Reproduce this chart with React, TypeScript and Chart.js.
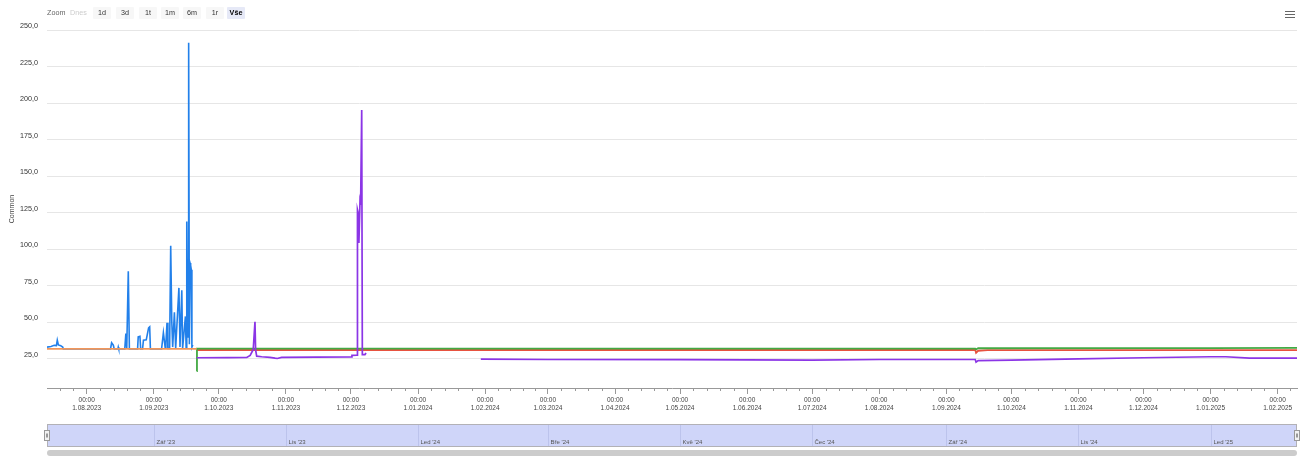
import React, { useEffect, useRef } from "react";
import { Chart, registerables } from "chart.js";

Chart.register(...registerables);

// ---------------- DATA ----------------
const blueDates = [
  "2023-07-13 16:00", "2023-07-15 12:00", "2023-07-17 00:00", "2023-07-18 00:00", "2023-07-18 10:00",
  "2023-07-18 22:00", "2023-07-20 00:00", "2023-07-20 22:00", "2023-07-21 05:00", "2023-08-12 00:00",
  "2023-08-12 12:00", "2023-08-13 07:00", "2023-08-13 17:00", "2023-08-15 10:00", "2023-08-15 14:00",
  "2023-08-15 19:00", "2023-08-18 14:00", "2023-08-19 02:00", "2023-08-19 12:00", "2023-08-20 05:00",
  "2023-08-20 17:00", "2023-08-24 12:00", "2023-08-24 19:00", "2023-08-25 14:00", "2023-08-25 22:00",
  "2023-08-26 19:00", "2023-08-27 05:00", "2023-08-28 12:00", "2023-08-29 14:00", "2023-08-30 02:00",
  "2023-08-30 10:00", "2023-09-04 14:00", "2023-09-05 10:00", "2023-09-06 05:00", "2023-09-06 14:00",
  "2023-09-07 02:00", "2023-09-07 12:00", "2023-09-08 07:00", "2023-09-08 19:00", "2023-09-09 07:00",
  "2023-09-09 17:00", "2023-09-10 12:00", "2023-09-11 02:00", "2023-09-12 14:00", "2023-09-13 02:00",
  "2023-09-13 22:00", "2023-09-14 07:00", "2023-09-15 14:00", "2023-09-15 22:00", "2023-09-16 05:00",
  "2023-09-16 12:00", "2023-09-16 19:00", "2023-09-17 02:00", "2023-09-17 10:00", "2023-09-17 17:00",
  "2023-09-18 00:00", "2023-09-18 07:00", "2023-09-18 14:00", "2023-09-19 00:00",
];
const blueValues = [
  33.0, 33.4, 34.2, 34.0, 37.7,
  34.5, 34.0, 33.0, 31.8, 31.8,
  35.9, 34.3, 31.8, 31.8, 33.0,
  31.8, 31.8, 42.3, 32.0, 84.9,
  31.8, 31.8, 40.0, 40.4, 31.8,
  31.8, 37.7, 38.0, 46.2, 46.9,
  31.8, 31.8, 42.8, 33.0, 36.0,
  49.6, 32.0, 32.0, 102.4, 50.7,
  33.0, 56.8, 32.0, 73.5, 33.0,
  71.9, 32.0, 54.0, 33.0, 119.0,
  60.0, 40.0, 241.3, 35.0, 90.6,
  89.0, 86.0, 33.0, 34.5,
];

const orangeDates = ["2023-07-13 16:00", "2023-08-15 00:00", "2023-09-20 20:00"];
const orangeValues = [31.8, 31.8, 31.8];

const greenDates = [
  "2023-09-20 20:00", "2023-09-20 22:00", "2024-01-01 00:00", "2024-06-01 00:00", "2024-09-14 08:00",
  "2024-09-14 17:00", "2024-09-15 16:00", "2025-01-01 00:00", "2025-02-09 22:00",
];
const greenValues = [16.5, 32.0, 32.0, 32.0, 32.0, 31.4, 32.2, 32.3, 32.4];

const redDates = [
  "2023-09-20 20:00", "2023-09-21 00:00", "2024-01-01 00:00", "2024-06-01 00:00", "2024-09-14 08:00",
  "2024-09-14 17:00", "2024-09-15 16:00", "2024-09-20 00:00", "2025-02-09 22:00",
];
const redValues = [31.0, 31.0, 31.0, 31.0, 31.0, 29.1, 30.5, 30.9, 30.9];

const purpleDates = [
  "2023-09-20 20:00", "2023-10-05 00:00", "2023-10-13 22:00", "2023-10-15 12:00", "2023-10-16 22:00",
  "2023-10-17 17:00", "2023-10-18 00:00", "2023-10-18 12:00", "2023-10-20 20:00", "2023-10-24 14:00",
  "2023-10-27 00:00", "2023-10-28 00:00", "2023-10-30 00:00", "2023-11-15 00:00", "2023-12-01 10:00",
  "2023-12-01 12:00", "2023-12-03 18:00", "2023-12-04 00:00", "2023-12-04 01:00", "2023-12-04 10:00",
  "2023-12-04 17:00", "2023-12-05 05:00", "2023-12-05 12:00", "2023-12-06 00:00", "2023-12-06 07:00",
  "2023-12-07 12:00", "2023-12-08 00:00", "2024-01-01 00:00", "2024-01-30 00:00", "2024-03-01 00:00",
  "2024-05-01 00:00", "2024-07-01 00:00", "2024-08-01 00:00", "2024-09-14 08:00", "2024-09-14 17:00",
  "2024-09-15 16:00", "2024-10-01 00:00", "2024-11-01 00:00", "2024-12-01 00:00", "2025-01-01 00:00",
  "2025-01-08 00:00", "2025-01-19 00:00", "2025-02-09 22:00",
];
const purpleValues = [
  25.7, 25.8, 25.9, 27.3, 31.4,
  50.3, 31.0, 26.8, 26.4, 26.0,
  25.4, 25.2, 26.0, 26.1, 26.2,
  27.3, 27.4, 27.4, 127.0, 124.6,
  104.3, 132.7, 130.4, 195.3, 27.9,
  27.9, 29.0, null, 24.7, 24.5,
  24.4, 24.1, 24.5, 24.5, 22.7,
  23.8, 24.1, 25.0, 25.7, 26.4,
  26.4, 25.4, 25.4,
];

const xTickDates = [
  "2023-08-01", "2023-09-01", "2023-10-01", "2023-11-01", "2023-12-01", "2024-01-01", "2024-02-01",
  "2024-03-01", "2024-04-01", "2024-05-01", "2024-06-01", "2024-07-01", "2024-08-01", "2024-09-01",
  "2024-10-01", "2024-11-01", "2024-12-01", "2025-01-01", "2025-02-01",
];
const yTickValues = [25, 50, 75, 100, 125, 150, 175, 200, 225, 250];

const navDates = [
  "2023-09-01", "2023-11-01", "2024-01-01", "2024-03-01", "2024-05-01",
  "2024-07-01", "2024-09-01", "2024-11-01", "2025-01-01",
];
const navLabels = ["Zář '23", "Lis '23", "Led '24", "Bře '24", "Kvě '24", "Čec '24", "Zář '24", "Lis '24", "Led '25"];

const rangeButtons = ["1d", "3d", "1t", "1m", "6m", "1r", "Vše"];

const X_MIN = "2023-07-13 16:00";
const X_MAX = "2025-02-09 22:00";

// ---------------- HELPERS ----------------
function ts(s: string): number {
  const [d, t] = s.split(" ");
  const [Y, M, D] = d.split("-").map(Number);
  const [h, m] = (t || "00:00").split(":").map(Number);
  return Date.UTC(Y, M - 1, D, h, m);
}
function pts(dates: string[], values: (number | null)[]) {
  return dates.map((d, i) => ({ x: ts(d), y: values[i] }));
}
const pad2 = (n: number) => (n < 10 ? "0" + n : "" + n);
const FONT = "'Liberation Sans', Arial, sans-serif";

const decorPlugin = {
  id: "decor",
  afterDraw(chart: any) {
    const ctx = chart.ctx as CanvasRenderingContext2D;
    const xs = chart.scales.x;
    const { left, right, bottom } = chart.chartArea;
    ctx.save();
    // minor ticks
    ctx.strokeStyle = "#999";
    ctx.lineWidth = 1;
    const md = new Date(xs.min);
    let yy = md.getUTCFullYear();
    let mm = md.getUTCMonth();
    for (;;) {
      const a = Date.UTC(yy, mm, 1);
      const b = Date.UTC(yy, mm + 1, 1);
      if (a > xs.max) break;
      for (let k = 1; k < 5; k++) {
        const t = a + ((b - a) * k) / 5;
        if (t < xs.min || t > xs.max) continue;
        const px = Math.round(xs.getPixelForValue(t)) + 0.5;
        ctx.beginPath();
        ctx.moveTo(px, bottom);
        ctx.lineTo(px, bottom + 3);
        ctx.stroke();
      }
      mm++;
      if (mm > 11) { mm = 0; yy++; }
    }

    // navigator
    const nTop = bottom + 36;
    const nBot = bottom + 59;
    ctx.fillStyle = "#cfd5f9";
    ctx.fillRect(left, nTop, right - left, nBot - nTop);
    ctx.strokeStyle = "#bcc3ec";
    navDates.forEach((d, i) => {
      const px = Math.round(xs.getPixelForValue(ts(d))) + 0.5;
      ctx.beginPath();
      ctx.moveTo(px, nTop);
      ctx.lineTo(px, nBot);
      ctx.stroke();
      ctx.fillStyle = "#555";
      ctx.font = `6px ${FONT}`;
      ctx.textBaseline = "middle";
      ctx.textAlign = "left";
      ctx.fillText(navLabels[i], px + 2, nBot - 5);
    });
    ctx.strokeStyle = "#b2b1b6";
    ctx.strokeRect(left + 0.5, nTop + 0.5, right - left - 1, nBot - nTop - 1);
    // handles
    [left, right].forEach((hx) => {
      const hy = (nTop + nBot) / 2;
      ctx.fillStyle = "#f2f2f2";
      ctx.strokeStyle = "#999";
      ctx.fillRect(Math.round(hx) - 2.5, hy - 5, 5, 10);
      ctx.strokeRect(Math.round(hx) - 2.5, hy - 5, 5, 10);
      ctx.beginPath();
      ctx.moveTo(Math.round(hx) - 0.5, hy - 2);
      ctx.lineTo(Math.round(hx) - 0.5, hy + 2);
      ctx.moveTo(Math.round(hx) + 0.5, hy - 2);
      ctx.lineTo(Math.round(hx) + 0.5, hy + 2);
      ctx.stroke();
    });
    // scrollbar
    const sTop = nBot + 3;
    const sH = 6;
    ctx.fillStyle = "#cccccc";
    ctx.beginPath();
    (ctx as any).roundRect(left, sTop, right - left, sH, 3);
    ctx.fill();
    ctx.restore();
  },
};

export default function App() {
  const ref = useRef<HTMLCanvasElement | null>(null);

  useEffect(() => {
    if (!ref.current) return;
    Chart.defaults.font.family = FONT;
    const mk = (label: string, data: any, color: string, order: number, width = 1.5) => ({
      label,
      data,
      borderColor: color,
      backgroundColor: color,
      borderWidth: width,
      pointRadius: 0,
      tension: 0,
      spanGaps: false,
      order,
    });
    const chart = new Chart(ref.current, {
      type: "line",
      data: {
        datasets: [
          mk("Purple", pts(purpleDates, purpleValues), "#8b35e6", 0, 1.7),
          mk("Orange", pts(orangeDates, orangeValues), "#f0965a", 1, 1.8),
          mk("Blue", pts(blueDates, blueValues), "#2280ea", 2, 1.6),
          mk("Green", pts(greenDates, greenValues), "#43a943", 3, 1.8),
          mk("Red", pts(redDates, redValues), "#e8523f", 4, 1.8),
        ],
      },
      options: {
        animation: false,
        responsive: false,
        maintainAspectRatio: false,
        layout: { padding: { left: 0, right: 9, top: 30, bottom: 41 } },
        plugins: { legend: { display: false }, tooltip: { enabled: false } },
        scales: {
          x: {
            type: "linear",
            min: ts(X_MIN),
            max: ts(X_MAX),
            afterBuildTicks: (s: any) => {
              s.ticks = xTickDates.map((d) => ({ value: ts(d) }));
            },
            afterFit: (s: any) => {
              s.height = 28;
            },
            grid: { display: true, drawOnChartArea: false, drawTicks: true, tickLength: 6, tickColor: "#999" },
            border: { display: true, color: "#999" },
            ticks: {
              autoSkip: false,
              maxRotation: 0,
              minRotation: 0,
              padding: 2,
              color: "#444",
              font: { size: 6.5, lineHeight: 1.25 },
              callback: (v: any) => {
                const d = new Date(Number(v));
                return ["00:00", `${d.getUTCDate()}.${pad2(d.getUTCMonth() + 1)}.${d.getUTCFullYear()}`];
              },
            },
          },
          y: {
            type: "linear",
            min: 5,
            max: 250,
            afterBuildTicks: (s: any) => {
              s.ticks = yTickValues.map((v) => ({ value: v }));
            },
            afterFit: (s: any) => {
              s.width = 47;
            },
            grid: { color: "#e6e6e6", drawTicks: false },
            border: { display: false },
            ticks: {
              padding: 9,
              labelOffset: -4,
              color: "#333",
              font: { size: 7.2 },
              callback: (v: any) => Number(v).toFixed(1).replace(".", ","),
            },
            title: {
              display: true,
              text: "Common",
              color: "#444",
              font: { size: 7 },
              padding: { top: 8, bottom: 0 },
            },
          },
        },
      },
      plugins: [decorPlugin],
    } as any);
    return () => chart.destroy();
  }, []);

  const btnLeft = [93, 116, 139, 161, 183, 206, 227];

  return (
    <div style={{ position: "absolute", left: 0, top: 0, width: 1306, height: 457, background: "#fff", fontFamily: FONT }}>
      <canvas ref={ref} width={1306} height={457} style={{ display: "block", width: 1306, height: 457 }} />
      <div style={{ position: "absolute", left: 47, top: 7, height: 12, lineHeight: "12px", fontSize: 7.2, color: "#666" }}>Zoom</div>
      <div style={{ position: "absolute", left: 69, top: 7, width: 19, height: 12, lineHeight: "12px", fontSize: 7.2, color: "#ccc", textAlign: "center" }}>Dnes</div>
      {rangeButtons.map((b, i) => {
        const sel = b === "Vše";
        return (
          <div
            key={b}
            style={{
              position: "absolute",
              left: btnLeft[i],
              top: 7,
              width: 18,
              height: 12,
              lineHeight: "12px",
              fontSize: 7.2,
              textAlign: "center",
              color: sel ? "#000" : "#333",
              fontWeight: sel ? "bold" : "normal",
              background: sel ? "#e6e9f7" : "#f7f7f7",
              borderRadius: 1,
            }}
          >
            {b}
          </div>
        );
      })}
      {[10.5, 13.5, 16.5].map((t) => (
        <div key={t} style={{ position: "absolute", left: 1285, top: t, width: 10, height: 1.5, background: "#666" }} />
      ))}
    </div>
  );
}
